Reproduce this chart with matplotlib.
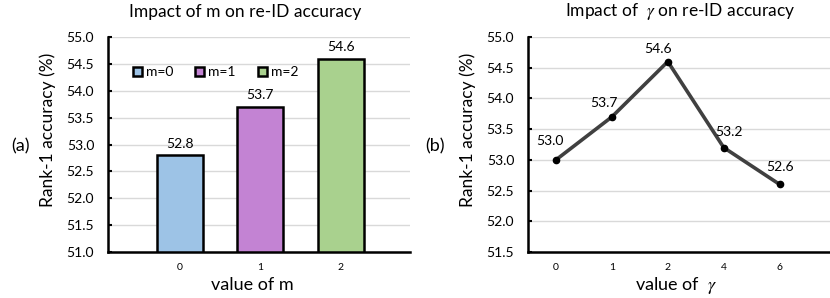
import matplotlib
matplotlib.use('Agg')
import matplotlib.pyplot as plt

# data
m_vals = ['0', '1', '2']
m_acc = [52.8, 53.7, 54.6]
m_names = ['m=0', 'm=1', 'm=2']
m_colors = ['#9DC3E6', '#C383D3', '#A9D18E']

g_vals = ['0', '1', '2', '4', '6']
g_acc = [53.0, 53.7, 54.6, 53.2, 52.6]
# label offsets (pixels) for the point labels
g_offs = [(-6, 19), (-8, 14), (-10, 13), (5, 16), (0, 17)]

plt.rcParams['font.family'] = ['Lato', 'DejaVu Sans']
plt.rcParams['mathtext.fontset'] = 'stix'

fig = plt.figure(figsize=(8.3, 2.98), dpi=100)
W, H = 830.0, 298.0

def style_axes(ax, lo, hi):
    ax.set_ylim(lo, hi)
    ticks = [lo + 0.5 * i for i in range(int(round((hi - lo) / 0.5)) + 1)]
    ax.set_yticks(ticks)
    ax.set_yticklabels(['%.1f' % t for t in ticks], fontsize=10)
    ax.grid(axis='y', color='#D9D9D9', linewidth=1)
    ax.set_axisbelow(True)
    for s in ['top', 'right']:
        ax.spines[s].set_visible(False)
    for s in ['left', 'bottom']:
        ax.spines[s].set_linewidth(1.8)
        ax.spines[s].set_color('black')
    ax.tick_params(axis='y', direction='in', length=3, width=1.5, pad=10)
    ax.tick_params(axis='x', length=0, pad=8, labelsize=7.5)
    ax.set_ylabel('Rank-1 accuracy (%)', fontsize=12.5)
    ax.yaxis.set_label_coords(-0.172, 0.567)

# ---- (a) bar chart
ax1 = fig.add_axes([108 / W, 46 / H, 302 / W, 215 / H])
bars = ax1.bar(range(len(m_vals)), m_acc, width=0.57, color=m_colors,
               edgecolor='black', linewidth=1.8)
ax1.set_xlim(-0.89, 2.86)
ax1.set_xticks(range(len(m_vals)))
ax1.set_xticklabels(m_vals)
style_axes(ax1, 51.0, 55.0)
ax1.bar_label(bars, fmt='%.1f', padding=4, fontsize=10)
ax1.legend(handles=list(bars), labels=m_names, ncol=3, frameon=False,
           loc='center left', bbox_to_anchor=(0.065, 0.837), fontsize=10,
           handlelength=0.65, handleheight=0.65, handletextpad=0.3,
           columnspacing=1.55, borderaxespad=0)

# ---- (b) line chart
ax2 = fig.add_axes([528 / W, 46 / H, 302 / W, 215 / H])
ax2.plot(range(len(g_vals)), g_acc, color='#404040', linewidth=2.6,
         marker='o', markersize=4.5, markerfacecolor='black',
         markeredgecolor='black', zorder=3)
for i, (v, off) in enumerate(zip(g_acc, g_offs)):
    ax2.annotate('%.1f' % v, (i, v), xytext=off, textcoords='offset pixels',
                 ha='center', va='center', fontsize=10)
ax2.set_xlim(-0.5, 4.9)
ax2.set_xticks(range(len(g_vals)))
ax2.set_xticklabels(g_vals)
style_axes(ax2, 51.5, 55.0)

# titles, x labels, panel tags
fig.text(245 / W, 1 - 12 / H, 'Impact of m on re-ID accuracy', ha='center', va='center', fontsize=12.5)
fig.text(680 / W, 1 - 12 / H, 'Impact of  $\\gamma$ on re-ID accuracy', ha='center', va='center', fontsize=12.5)
fig.text(252 / W, 1 - 285 / H, 'value of m', ha='center', va='center', fontsize=13)
fig.text(676 / W, 1 - 285 / H, 'value of  $\\gamma$', ha='center', va='center', fontsize=13)
fig.text(20 / W, 1 - 146 / H, '(a)', ha='center', va='center', fontsize=13)
fig.text(435 / W, 1 - 146 / H, '(b)', ha='center', va='center', fontsize=13)

fig.savefig('out.png', dpi=100)
